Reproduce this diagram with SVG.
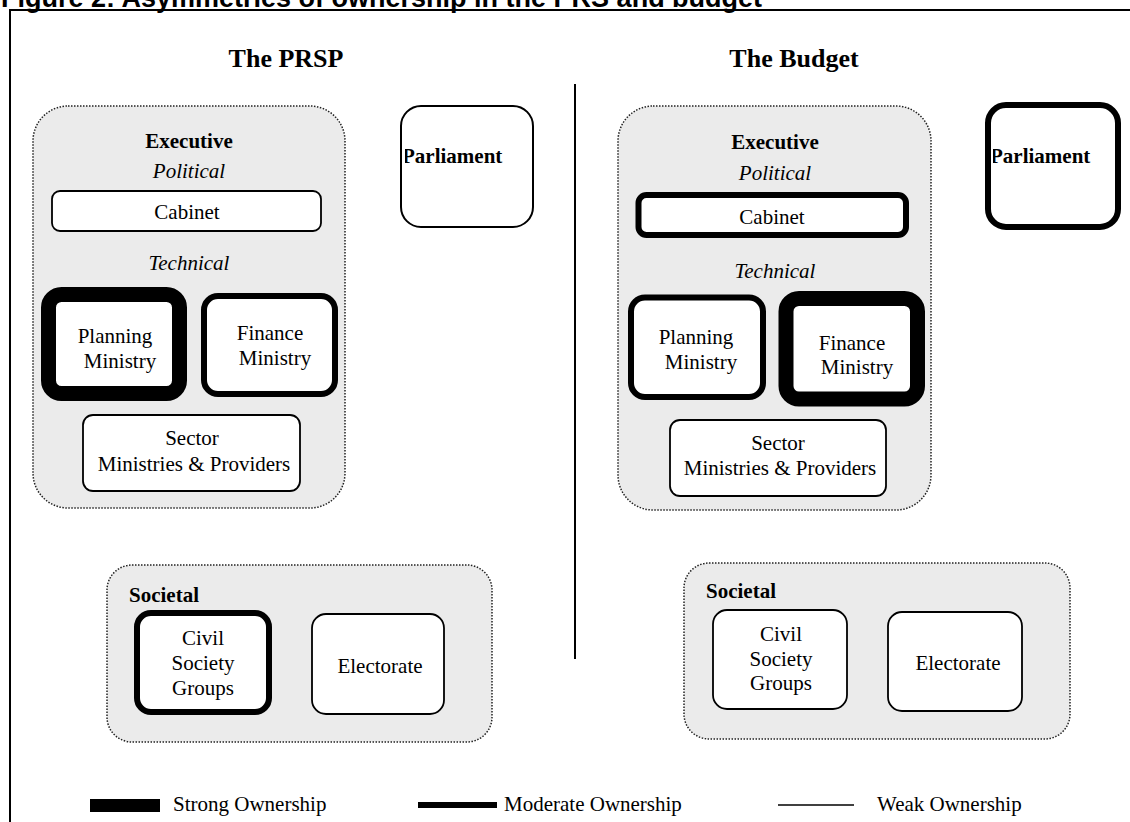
<svg xmlns="http://www.w3.org/2000/svg" width="1130" height="822" viewBox="0 0 1130 822">
<style>
.bg{fill:#fff}
.cont{fill:#ebebeb;stroke:#222;stroke-width:1.5;stroke-dasharray:1.5 1.5}
.box{fill:#fff;stroke:#000}
.weak{stroke-width:1.8}
.mod{stroke-width:6}
.strong{stroke-width:15}
.t{font-family:"Liberation Serif","Times New Roman",serif;font-size:21px;fill:#000;text-anchor:middle}
.b{font-weight:bold}
.i{font-style:italic}
.h{font-family:"Liberation Serif","Times New Roman",serif;font-size:26px;font-weight:bold;text-anchor:middle}
.lg{font-family:"Liberation Serif","Times New Roman",serif;font-size:21px;fill:#000}
</style>
<defs>
<clipPath id="clipL"><rect x="405" y="100" width="130" height="130"/></clipPath>
<clipPath id="clipR"><rect x="993" y="100" width="130" height="130"/></clipPath>
</defs>
<rect class="bg" x="0" y="0" width="1130" height="822"/>
<text x="1" y="7" font-family="'Liberation Sans',Arial,sans-serif" font-size="27" font-weight="bold">Figure 2: Asymmetries of ownership in the PRS and budget</text>
<path d="M10,822 V10 H1130" fill="none" stroke="#000" stroke-width="2"/>

<text class="h" x="286" y="67">The PRSP</text>
<text class="h" x="794" y="67">The Budget</text>

<g id="connectors">
<line x1="575" y1="84" x2="575" y2="659" stroke="#000" stroke-width="2"/>
</g>

<!-- PRSP side -->
<g id="executive-prsp">
<rect class="cont" x="33" y="106" width="312" height="402" rx="35"/>
<text class="t b" x="189" y="148">Executive</text>
<text class="t i" x="189" y="178">Political</text>
<text class="t i" x="189" y="270">Technical</text>
</g>
<g id="cabinet-prsp">
<rect class="box weak" x="52" y="191" width="269" height="40" rx="8"/>
<text class="t" x="187" y="219">Cabinet</text>
</g>
<g id="planning-prsp">
<rect class="box strong" x="48.5" y="294.5" width="131" height="99" rx="13"/>
<text class="t" x="115" y="343">Planning</text>
<text class="t" x="120" y="368">Ministry</text>
</g>
<g id="finance-prsp">
<rect class="box mod" x="204" y="296" width="131" height="98" rx="14"/>
<text class="t" x="270" y="340">Finance</text>
<text class="t" x="275" y="365">Ministry</text>
</g>
<g id="sector-prsp">
<rect class="box weak" x="83" y="415" width="217" height="76" rx="10"/>
<text class="t" x="192" y="445">Sector</text>
<text class="t" x="194" y="471">Ministries &amp; Providers</text>
</g>
<g id="parliament-prsp">
<rect class="box" stroke-width="2" x="401" y="106" width="132" height="121" rx="20"/>
<text class="t b" x="402" y="163" style="text-anchor:start" clip-path="url(#clipL)">Parliament</text>
</g>
<g id="societal-prsp">
<rect class="cont" x="107" y="565" width="385" height="177" rx="25"/>
<text class="t b" x="129" y="602" style="text-anchor:start">Societal</text>
</g>
<g id="civil-prsp">
<rect class="box mod" x="137" y="613" width="132" height="99" rx="14"/>
<text class="t" x="203" y="645">Civil</text>
<text class="t" x="203" y="670">Society</text>
<text class="t" x="203" y="695">Groups</text>
</g>
<g id="electorate-prsp">
<rect class="box weak" x="312" y="614" width="132" height="100" rx="14"/>
<text class="t" x="380" y="673">Electorate</text>
</g>

<!-- Budget side -->
<g id="executive-budget">
<rect class="cont" x="618" y="106" width="313" height="404" rx="35"/>
<text class="t b" x="775" y="149">Executive</text>
<text class="t i" x="775" y="180">Political</text>
<text class="t i" x="775" y="278">Technical</text>
</g>
<g id="cabinet-budget">
<rect class="box mod" x="638.5" y="195" width="267.5" height="40" rx="8"/>
<text class="t" x="772" y="224">Cabinet</text>
</g>
<g id="planning-budget">
<rect class="box mod" x="631" y="297.5" width="132" height="99.5" rx="14"/>
<text class="t" x="696" y="343.5">Planning</text>
<text class="t" x="701" y="369">Ministry</text>
</g>
<g id="finance-budget">
<rect class="box strong" x="786" y="298.5" width="131.5" height="100.5" rx="13"/>
<text class="t" x="852" y="350">Finance</text>
<text class="t" x="857" y="374">Ministry</text>
</g>
<g id="sector-budget">
<rect class="box weak" x="670" y="420" width="216" height="76" rx="10"/>
<text class="t" x="778" y="450">Sector</text>
<text class="t" x="780" y="475">Ministries &amp; Providers</text>
</g>
<g id="parliament-budget">
<rect class="box mod" x="988" y="105" width="130" height="122" rx="18"/>
<text class="t b" x="990" y="163" style="text-anchor:start" clip-path="url(#clipR)">Parliament</text>
</g>
<g id="societal-budget">
<rect class="cont" x="684" y="563" width="386" height="176" rx="25"/>
<text class="t b" x="706" y="598" style="text-anchor:start">Societal</text>
</g>
<g id="civil-budget">
<rect class="box weak" x="713" y="610" width="134" height="99" rx="14"/>
<text class="t" x="781" y="641">Civil</text>
<text class="t" x="781" y="666">Society</text>
<text class="t" x="781" y="690">Groups</text>
</g>
<g id="electorate-budget">
<rect class="box weak" x="888" y="612" width="134" height="99" rx="14"/>
<text class="t" x="958" y="670">Electorate</text>
</g>

<g id="legend">
<rect x="90" y="799" width="70" height="13" fill="#000"/>
<text class="lg" x="173" y="811">Strong Ownership</text>
<line x1="418" y1="805" x2="497" y2="805" stroke="#000" stroke-width="6"/>
<text class="lg" x="504" y="811">Moderate Ownership</text>
<line x1="778" y1="805" x2="854" y2="805" stroke="#000" stroke-width="1.5"/>
<text class="lg" x="877" y="811">Weak Ownership</text>
</g>
</svg>
